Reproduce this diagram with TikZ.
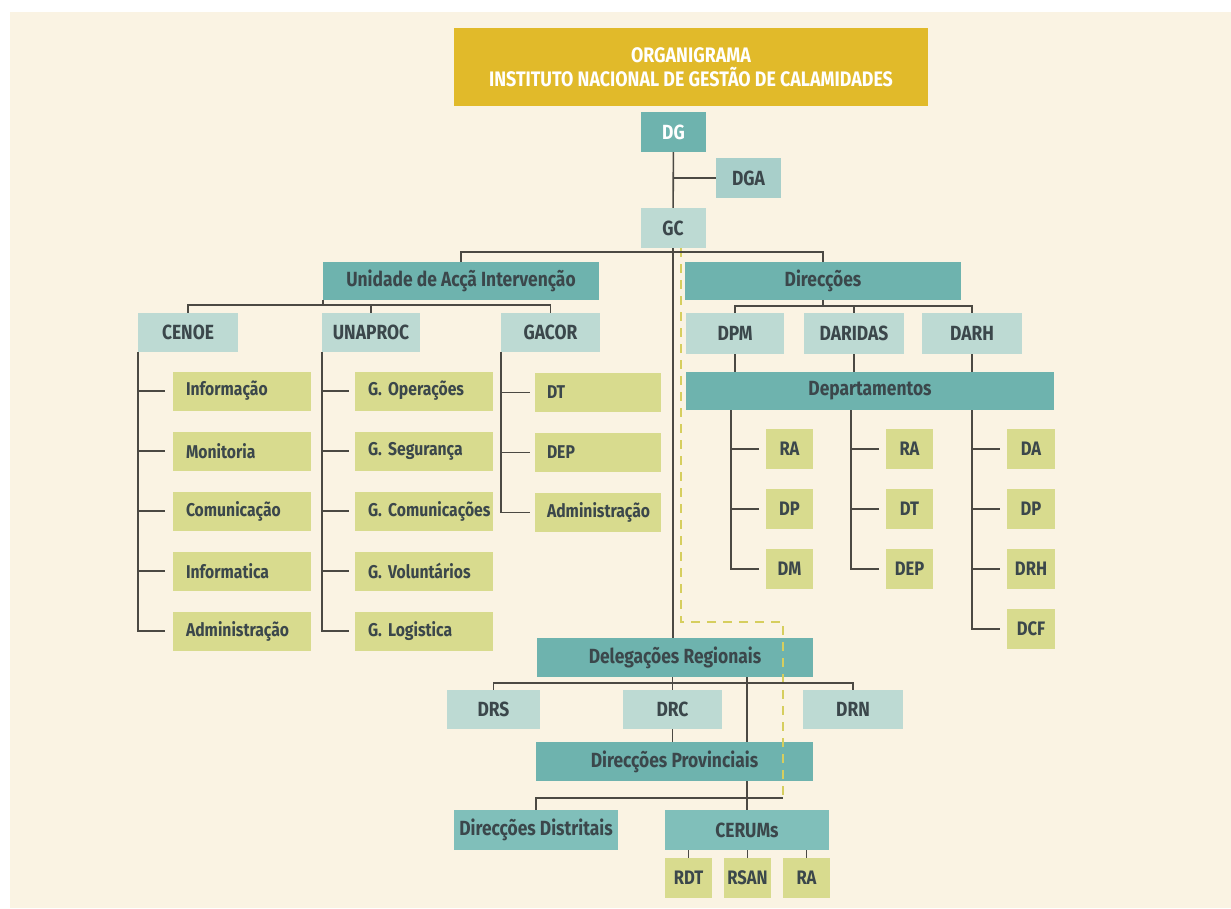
\documentclass[tikz,border=0pt]{standalone}
\usepackage{fontspec}
\setmainfont{Fira Sans}[FakeStretch=0.85]
\usepackage{tikz}
\usetikzlibrary{positioning}

\definecolor{cream}{HTML}{FAF3E3}
\definecolor{gold}{HTML}{E1BA2A}
\definecolor{tealdark}{HTML}{6EB3AE}
\definecolor{tealmid}{HTML}{80BFBA}
\definecolor{tealpale}{HTML}{A8CFCA}
\definecolor{teallight}{HTML}{BDDAD3}
\definecolor{olive}{HTML}{D8DB8E}
\definecolor{ink}{HTML}{3B474B}
\definecolor{wire}{HTML}{4B4943}
\definecolor{dashy}{HTML}{D6CE5E}

\tikzset{
    box/.style={inner sep=0pt, text=ink, font=\bfseries\fontsize{20.5}{23}\selectfont},
    unitbox/.style={box, fill=tealdark, minimum height=38pt},
    subbox/.style={box, fill=teallight, minimum height=39pt},
    leaf/.style={box, fill=olive, minimum height=39pt, font=\bfseries\fontsize{19.5}{22}\selectfont},
    wideleaf/.style={leaf, minimum width=138pt, text width=112pt, align=left,
                     font=\bfseries\fontsize{18.5}{21}\selectfont},
    link/.style={draw=wire, line width=1.6pt},
    dashline/.style={draw=dashy, line width=1.6pt, dash pattern=on 9pt off 7pt}
}

\begin{document}
\begin{tikzpicture}[x=1pt, y=-1pt]
    % Page and panel
    \useasboundingbox (0,0) rectangle (1231,908);
    \fill[white] (0,0) rectangle (1231,908);
    \fill[cream] (10,12) rectangle (1231,908);

    % Title and top of the chart
    \node[box, fill=gold, text=white, minimum width=474pt, minimum height=78pt, align=center,
          font=\bfseries\fontsize{21}{24}\selectfont] (title) at (691,67)
          {ORGANIGRAMA\\INSTITUTO NACIONAL DE GESTÃO DE CALAMIDADES};
    \node[box, fill=tealdark, text=white, minimum width=65pt, minimum height=40pt] (dg) at (673.5,132) {DG};
    \node[box, fill=tealpale, minimum width=65pt, minimum height=40pt] (dga) at (748.5,178) {DGA};
    \node[box, fill=teallight, minimum width=65pt, minimum height=40pt] (gc) at (673,228) {GC};

    % Two main branches
    \node[unitbox, minimum width=276pt] (unid) at (461,281) {Unidade de Acçã Intervenção};
    \node[unitbox, minimum width=276pt] (direc) at (823,281) {Direcções};

    % Units under Unidade de Acçã Intervenção
    \node[subbox, minimum width=100pt] (cenoe) at (188,332.5) {CENOE};
    \node[subbox, minimum width=98pt] (unap) at (371,332.5) {UNAPROC};
    \node[subbox, minimum width=99pt] (gacor) at (550.5,332.5) {GACOR};

    \foreach \t [count=\i] in {Informação, Monitoria, Comunicação, Informatica, Administração} {
        \node[wideleaf] (cen\i) at (242,{391+60*(\i-1)}) {\mbox{\t}};
    }
    \foreach \t [count=\i] in {G. Operações, G. Segurança, G. Comunicações, G. Voluntários, G. Logistica} {
        \node[wideleaf] (una\i) at (424,{391+60*(\i-1)}) {\mbox{\t}};
    }
    \foreach \t [count=\i] in {DT, DEP, Administração} {
        \node[wideleaf, minimum width=126pt, text width=102pt] (gac\i) at (598,{392.5+60*(\i-1)}) {\mbox{\t}};
    }

    % Direcções and their departments
    \node[subbox, minimum width=98pt, minimum height=41pt] (dpm) at (735,333.5) {DPM};
    \node[subbox, minimum width=100pt, minimum height=41pt] (darid) at (854,333.5) {DARIDAS};
    \node[subbox, minimum width=100pt, minimum height=41pt] (darh) at (972,333.5) {DARH};
    \node[unitbox, minimum width=368pt] (deps) at (870,391) {Departamentos};

    \foreach \t [count=\i] in {RA, DP, DM} {
        \node[leaf, minimum width=47pt, minimum height=40pt] (dpm\i) at (789.5,{449+60*(\i-1)}) {\t};
    }
    \foreach \t [count=\i] in {RA, DT, DEP} {
        \node[leaf, minimum width=47pt, minimum height=40pt] (dar\i) at (909.5,{449+60*(\i-1)}) {\t};
    }
    \foreach \t [count=\i] in {DA, DP, DRH, DCF} {
        \node[leaf, minimum width=48pt, minimum height=40pt] (drh\i) at (1031,{449+60*(\i-1)}) {\t};
    }

    % Regional and provincial level
    \node[unitbox, minimum width=276pt, minimum height=39pt] (dreg) at (675,657.5) {Delegações Regionais};
    \node[subbox, minimum width=93pt] (drs) at (493.5,709.5) {DRS};
    \node[subbox, minimum width=99pt] (drc) at (672.5,709.5) {DRC};
    \node[subbox, minimum width=100pt] (drn) at (853,709.5) {DRN};
    \node[unitbox, minimum width=277pt, minimum height=39pt] (dprov) at (674.5,761.5) {Direcções Provinciais};

    \node[box, fill=tealmid, minimum width=164pt, minimum height=40pt] (ddist) at (536,830) {Direcções Distritais};
    \node[box, fill=tealmid, minimum width=164pt, minimum height=40pt] (cerum) at (747,830) {CERUMs};
    \node[leaf, minimum width=47pt, minimum height=40pt] (rdt) at (688.5,878) {RDT};
    \node[leaf, minimum width=47pt, minimum height=40pt] (rsan) at (747.5,878) {RSAN};
    \node[leaf, minimum width=47pt, minimum height=40pt] (rac) at (806.5,878) {RA};
    \coordinate (pbar) at (783,798);

    % Dashed line from GC down to the provinces
    \draw[dashline] ([xshift=8pt]gc.south) -- ++(0,374) -| (pbar);

    % Trunk
    \draw[link] (dg) -- (gc);
    \draw[link] (dga.west) -- (dga.west -| dg.south);
    \draw[link] (gc.south) -- (gc.south |- dreg.north);
    \draw[link] (unid.north) -- ++(0,-10) -| (direc.north);

    % Unidade de Acçã Intervenção
    \draw[link] (unid.south west) -- ++(0,5);
    \draw[link] (cenoe.north) -- ++(0,-8) -| (gacor.north);
    \draw[link] (unap.north) -- ++(0,-8);
    \draw[link] (cenoe.south west) |- ([xshift=-8pt]cen5.west);
    \draw[link] (unap.south west) |- ([xshift=-6pt]una5.west);
    \draw[link] (gacor.south west) |- ([xshift=-5pt]gac3.west);
    \foreach \i in {1,...,4} {
        \draw[link] (cenoe.south west |- cen\i.west) -- ([xshift=-8pt]cen\i.west);
        \draw[link] (unap.south west |- una\i.west) -- ([xshift=-6pt]una\i.west);
    }
    \foreach \i in {1,2} {
        \draw[link] (gacor.south west |- gac\i.west) -- ([xshift=-5pt]gac\i.west);
    }

    % Direcções
    \draw[link] (direc.south) -- ++(0,6);
    \draw[link] (dpm.north) -- ++(0,-7) -| (darh.north);
    \draw[link] (darid.north) -- ++(0,-7);
    \foreach \n in {dpm,darid,darh} {
        \draw[link] (\n) -- (\n |- deps.north);
    }
    \draw[link] ([xshift=-35pt]dpm1.west |- deps.south) |- ([xshift=-7pt]dpm3.west);
    \draw[link] ([xshift=-35pt]dar1.west |- deps.south) |- ([xshift=-7pt]dar3.west);
    \draw[link] ([xshift=-35pt]drh1.west |- deps.south) |- ([xshift=-7pt]drh4.west);
    \foreach \i in {1,2} {
        \draw[link] ([xshift=-35pt]dpm1.west |- dpm\i.west) -- ([xshift=-7pt]dpm\i.west);
        \draw[link] ([xshift=-35pt]dar1.west |- dar\i.west) -- ([xshift=-7pt]dar\i.west);
    }
    \foreach \i in {1,2,3} {
        \draw[link] ([xshift=-35pt]drh1.west |- drh\i.west) -- ([xshift=-7pt]drh\i.west);
    }

    % Delegações Regionais down to CERUMs
    \draw[link] (drs.north) -- ++(0,-7) -| (drn.north);
    \draw[link] (drc.north) -- (drc.north |- dreg.south);
    \draw[link] (drc) -- (drc |- dprov.north);
    \draw[link] (dreg.south -| cerum.north) -- (dprov.north -| cerum.north);
    \draw[link] (dprov.south -| cerum.north) -- (cerum.north);
    \draw[link] (ddist.north) |- (pbar);
    \foreach \n in {rdt,rsan,rac} {
        \draw[link] (\n) -- (\n |- cerum.south);
    }
\end{tikzpicture}
\end{document}
